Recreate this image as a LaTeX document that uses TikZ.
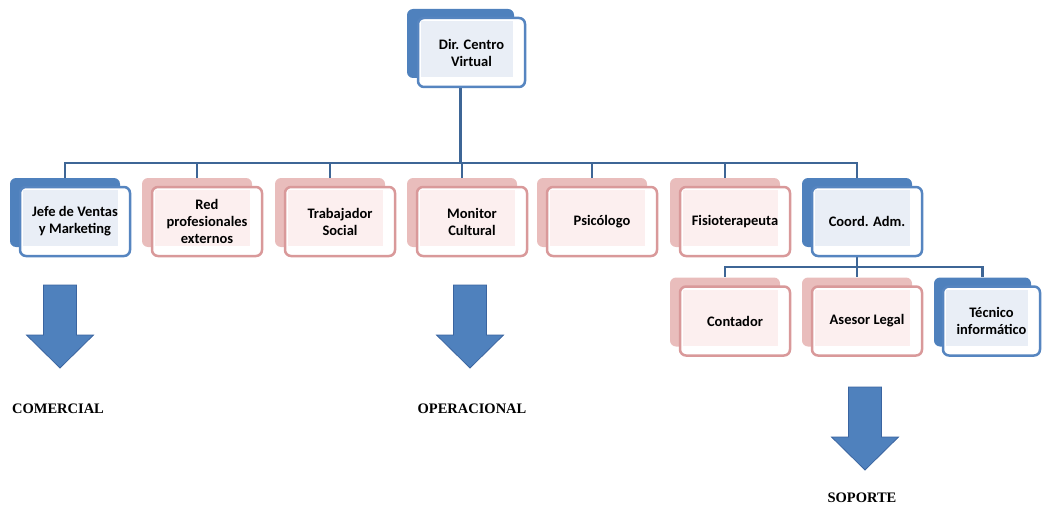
\documentclass[tikz,border=0pt]{standalone}
\usepackage{fontspec}
\setmainfont{Carlito}
\newfontfamily\labelfont{Liberation Serif}
\usetikzlibrary{backgrounds}

\definecolor{blueback}{HTML}{4F81BD}
\definecolor{blueline}{HTML}{5685C0}
\definecolor{blueinner}{HTML}{E9EEF6}
\definecolor{pinkback}{HTML}{E9BDBC}
\definecolor{pinkline}{HTML}{D9999A}
\definecolor{pinkinner}{HTML}{FCEFEF}
\definecolor{connline}{HTML}{3E6696}
\definecolor{arrowline}{HTML}{3A64A0}

\tikzset{
    backbox/.style={fill=#1back, rounded corners=6pt, minimum width=110pt, minimum height=69pt, inner sep=0pt},
    frontbox/.style={draw=#1line, fill=white, line width=2.5pt, rounded corners=6pt,
        minimum width=110pt, minimum height=69pt, inner sep=2pt, align=center,
        font=\bfseries\fontsize{14.5}{17}\selectfont,
        path picture={\fill[#1inner, sharp corners] ([shift={(3pt,-3pt)}]path picture bounding box.north west)
            rectangle ([shift={(-12pt,10pt)}]path picture bounding box.south east);}},
    conn/.style={draw=connline, line width=2.8pt},
    unitlabel/.style={font=\labelfont\bfseries\fontsize{14.5}{16}\selectfont},
    downarrow/.pic={
        \draw[fill=blueback, draw=arrowline, line width=0.8pt] (0,0) -- (16.5,0) -- (16.5,50) -- (33.5,50)
            -- (0,83) -- (-33.5,50) -- (-16.5,50) -- (-16.5,0) -- cycle;}
}

\begin{document}
\begin{tikzpicture}[x=1pt, y=-1pt]
        \useasboundingbox (0,0) rectangle (1043,508);
        % direccion
        \node[backbox=blue, minimum width=107pt] (dir-b) at (460.5,43.5) {};
        \node[frontbox=blue, minimum width=107pt] (dir) at (471.5,52.5) {Dir. Centro\\Virtual};
        % primer nivel
        \foreach \x/\n/\c/\t in {75/jefe/blue/{Jefe de Ventas\\y Marketing}, 207/red/pink/{Red\\profesionales\\externos},
                340/trab/pink/{Trabajador\\Social}, 472/monitor/pink/{Monitor\\Cultural}, 602/psico/pink/{Psicólogo},
                735/fisio/pink/{Fisioterapeuta}, 867/coord/blue/{Coord. Adm.}}{
            \node[backbox=\c] (\n-b) at (\x-10,212.5) {};
            \node[frontbox=\c] (\n) at (\x,221.5) {\t};
        }
        % soporte
        \foreach \x/\n/\t in {735/conta/{Contador}, 867/asesor/{Asesor Legal}}{
            \node[backbox=pink] (\n-b) at (\x-10,312) {};
            \node[frontbox=pink] (\n) at (\x,321) {\t};
        }
        \node[backbox=blue, minimum width=97pt] (tecnico-b) at (982.5,312) {};
        \node[frontbox=blue, minimum width=97pt] (tecnico) at (991.5,321) {Técnico\\informático};
        % lineas
        \coordinate (bar1) at (0,163);
        \coordinate (bar2) at (0,267);
        \begin{pgfonlayer}{background}
            \foreach \n in {jefe,red,trab,monitor,psico,fisio,coord}
                \draw[conn] (dir.south -| dir-b) |- (\n-b.north |- bar1) -- (\n-b.north);
            \foreach \n in {conta,asesor,tecnico}
                \draw[conn] (coord.south -| coord-b) |- (\n-b.north |- bar2) -- (\n-b.north);
        \end{pgfonlayer}
        % areas
        \pic at (60,285) {downarrow};
        \pic at (470,285) {downarrow};
        \pic at (865,387) {downarrow};
        \node[unitlabel] (comercial) at (58,409) {COMERCIAL};
        \node[unitlabel] (operacional) at (472,409) {OPERACIONAL};
        \node[unitlabel] (soporte) at (862,498) {SOPORTE};
\end{tikzpicture}
\end{document}
